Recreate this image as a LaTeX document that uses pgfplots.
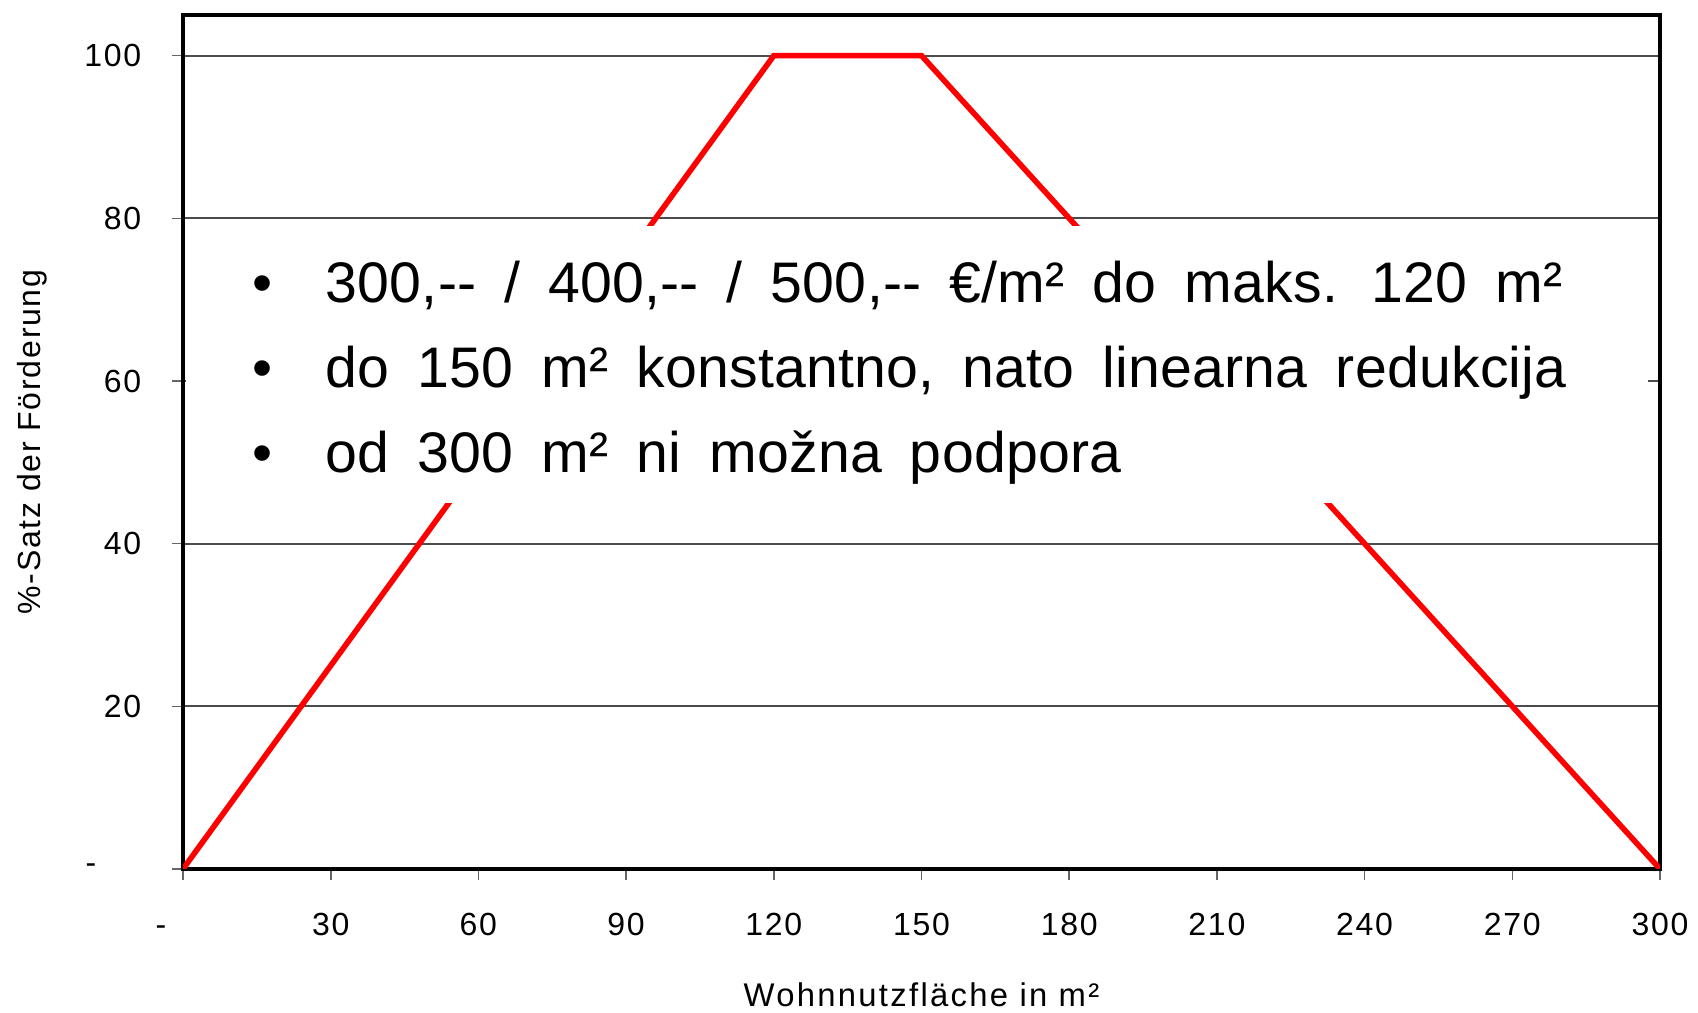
\documentclass[border=0pt]{standalone}
\usepackage{fontspec}
\setmainfont{Liberation Sans}
\newfontfamily\spaced[LetterSpace=5.5]{Liberation Sans}
\newfontfamily\xlabfont[LetterSpace=7]{Liberation Sans}
\newfontfamily\boxfont[LetterSpace=0.4, WordSpace=1.74]{Liberation Sans}
\usepackage{pgfplots}
\pgfplotsset{compat=1.18}
\begin{document}
\begin{tikzpicture}
\begin{axis}[
  scale only axis, width=369.25pt, height=213.5pt,
  xmin=0, xmax=300, ymin=0, ymax=105,
  axis line style={line width=1pt, black},
  xtick={0,30,60,90,120,150,180,210,240,270,300},
  xticklabels={\vphantom{0}-\rule{11pt}{0pt},30,60,90,120,150,180,210,240,270,300},
  ytick={0,20,40,60,80,100},
  yticklabels={-\rule{11.25pt}{0pt},20,40,60,80,100},
  tick align=outside, xtick pos=bottom, ytick pos=left,
  major tick length=2.75pt,
  tick style={line width=0.4pt, color=black!60},
  ymajorgrids, major grid style={line width=0.45pt, color=black!70},
  /pgf/number format/assume math mode=true,
  ticklabel style={font=\spaced\fontsize{8}{9}\selectfont, inner sep=0pt},
  xticklabel style={anchor=north, yshift=-8pt},
  yticklabel style={anchor=east, xshift=-7.5pt},
  xlabel={Wohnnutzfläche in m²},
  ylabel={\%-Satz der Förderung},
  xlabel style={font=\xlabfont\fontsize{8.2}{9}\selectfont, at={(axis description cs:0.5,0)}, anchor=base, yshift=-34.5pt, inner sep=0pt},
  ylabel style={font=\spaced\fontsize{8}{9}\selectfont, at={(axis description cs:0,0.5)}, anchor=center, yshift=37.75pt, inner sep=0pt},
]
\addplot[red, line width=1.4pt, line join=miter] coordinates {(0,0) (120,100) (150,100) (300,0)};
\fill[white] (axis cs:0.6,45) rectangle (axis cs:297.6,79.1);
\node[anchor=base, font=\fontsize{14.3}{17}\selectfont] at (axis cs:16.05,69.7) {•};
\node[anchor=base, font=\fontsize{14.3}{17}\selectfont] at (axis cs:16.05,59.2) {•};
\node[anchor=base, font=\fontsize{14.3}{17}\selectfont] at (axis cs:16.05,48.7) {•};
\node[anchor=base west, inner sep=0pt, font=\boxfont\fontsize{14.3}{17}\selectfont] at (axis cs:28.85,69.7) {300,-- / 400,-- / 500,-- €/m² do maks. 120 m²};
\node[anchor=base west, inner sep=0pt, font=\boxfont\fontsize{14.3}{17}\selectfont] at (axis cs:28.85,59.2) {do 150 m² konstantno, nato linearna redukcija};
\node[anchor=base west, inner sep=0pt, font=\boxfont\fontsize{14.3}{17}\selectfont] at (axis cs:28.85,48.7) {od 300 m² ni možna podpora};
\coordinate (SW) at (rel axis cs:0,0);
\coordinate (NE) at (rel axis cs:1,1);
\end{axis}
\pgfresetboundingbox
\path ([xshift=-45.75pt,yshift=-36pt]SW) rectangle ([xshift=9.5pt,yshift=3.75pt]NE);
\end{tikzpicture}
\end{document}
